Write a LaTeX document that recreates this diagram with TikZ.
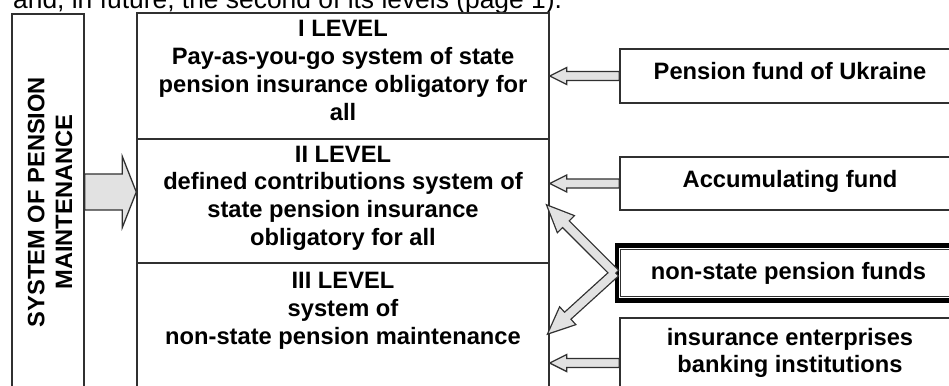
\documentclass[tikz,border=0pt]{standalone}
\usepackage{fontspec}
\setmainfont{Liberation Sans}
\usepackage{xcolor}
\usepackage{tikz}
\usetikzlibrary{calc}

\definecolor{linegray}{HTML}{303030}
\definecolor{arrowgray}{HTML}{E2E2E2}

\tikzset{
  box/.style={draw=linegray,line width=1.4pt,inner sep=0pt},
  boxtext/.style={align=center,inner sep=0pt,font=\fontsize{23.7}{27.7}\selectfont\bfseries},
  onetext/.style={text height=17pt,text depth=#1},
  arrowpath/.style n args={3}{to path={
      ($(\tikztostart)!#1!90:(\tikztotarget)$)
      -- ($($(\tikztotarget)!#3!(\tikztostart)$)!#1!-90:(\tikztostart)$)
      -- ($($(\tikztotarget)!#3!(\tikztostart)$)!#2!-90:(\tikztostart)$)
      -- (\tikztotarget)
      -- ($($(\tikztotarget)!#3!(\tikztostart)$)!#2!90:(\tikztostart)$)
      -- ($($(\tikztotarget)!#3!(\tikztostart)$)!#1!90:(\tikztostart)$)
      -- ($(\tikztostart)!#1!-90:(\tikztotarget)$) -- cycle}},
  barrow/.style n args={3}{arrowpath={#1}{#2}{#3},fill=arrowgray,draw=linegray,
    line width=1.3pt,line join=miter},
}

\begin{document}
\begin{tikzpicture}[x=1pt,y=-1pt]
  \useasboundingbox (0,0) rectangle (949,385);
  \clip (0,0) rectangle (949,385);

  \node[anchor=base west,inner sep=0pt,font=\fontsize{26.4}{30}\selectfont] (intro) at (13,8.5)
    {and, in future, the second of its levels (page 1).};

  % left column
  \node[box,minimum width=72pt,minimum height=380pt] (sys) at (48,204) {};
  \node[boxtext,rotate=90] (systxt) at ([xshift=2pt,yshift=2pt]sys.center)
    {SYSTEM OF PENSION\\MAINTENANCE};

  % levels
  \node[box,minimum width=412pt,minimum height=126pt] (lvI) at (343,76) {};
  \node[box,minimum width=412pt,minimum height=124pt] (lvII) at (343,201) {};
  \node[box,minimum width=412pt,minimum height=132pt] (lvIII) at (343,329) {};
  \node[boxtext] (lvItxt) at ([yshift=5.5pt]lvI.center)
    {I LEVEL\\Pay-as-you-go system of state\\pension insurance obligatory for\\all};
  \node[boxtext] (lvIItxt) at ([yshift=3pt]lvII.center)
    {II LEVEL\\defined contributions system of\\state pension insurance\\obligatory for all};
  \node[boxtext] (lvIIItxt) at ([yshift=18pt]lvIII.center)
    {III LEVEL\\system of\\non-state pension maintenance};

  % institutions
  \node[box,boxtext,onetext=9pt,minimum width=340pt,minimum height=54pt] (pfu) at (790,76)
    {Pension fund of Ukraine};
  \node[box,boxtext,onetext=10pt,minimum width=340pt,minimum height=53pt] (acc) at (790,183.5)
    {Accumulating fund};
  \node[box,boxtext,onetext=5pt,draw=black,line width=4.5pt,minimum width=343pt,minimum height=55pt] (nsf)
    at (788.5,273) {non-state pension funds};
  \draw[linegray,line width=1.2pt] ([shift={(6pt,-6pt)}]nsf.north west) rectangle ([shift={(-6pt,6pt)}]nsf.south east);
  \node[box,boxtext,minimum width=340pt,minimum height=70pt] (ins) at (790,353)
    {insurance enterprises\\banking institutions};

  % arrows
  \coordinate (bighead) at ([yshift=9pt]lvII.west);
  \coordinate (bigtail) at (sys.east |- bighead);
  \path[barrow={18pt}{35.5pt}{14pt}] (bigtail) to (bighead);

  \coordinate (pfuend) at (lvI.east |- pfu.west);
  \coordinate (accend) at (lvII.east |- acc.west);
  \coordinate (insstart) at ([yshift=-10pt]ins.west);
  \coordinate (insend) at (lvIII.east |- insstart);
  \path[barrow={4.5pt}{8.5pt}{17pt}] (pfu.west) to (pfuend);
  \path[barrow={4.5pt}{8.5pt}{17pt}] (acc.west) to (accend);
  \path[barrow={4.5pt}{8.5pt}{17pt}] (insstart) to (insend);

  \coordinate (uptip) at ([xshift=-2pt,yshift=-5pt]lvII.east);
  \coordinate (lowtip) at ([xshift=-1pt,yshift=-4pt]lvIII.east);
  \path[barrow={4pt}{11pt}{25pt},line width=2.6pt] (nsf.west) to (uptip);
  \path[barrow={4pt}{11pt}{25pt},line width=2.6pt] (nsf.west) to (lowtip);
  \path[arrowpath={4pt}{11pt}{25pt},fill=arrowgray] (nsf.west) to (uptip);
  \path[arrowpath={4pt}{11pt}{25pt},fill=arrowgray] (nsf.west) to (lowtip);
\end{tikzpicture}
\end{document}
